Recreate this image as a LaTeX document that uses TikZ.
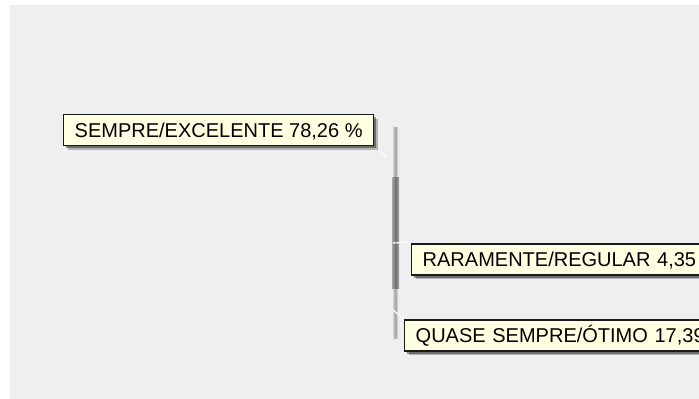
\documentclass[tikz,border=0pt]{standalone}
\usepackage{fontspec}
\setmainfont{Liberation Sans}
\usetikzlibrary{shadows}
\definecolor{bgc}{HTML}{EFEFEF}
\definecolor{tipfill}{HTML}{FFFFE1}
\definecolor{barlight}{HTML}{B4B4B4}
\definecolor{bardark}{HTML}{6E6E6E}
\tikzset{
  tipbox/.style={draw=black!90, line width=1.4pt, fill=tipfill, anchor=west,
    font=\fontsize{20}{24}\selectfont, inner xsep=11pt, inner ysep=0pt,
    text height=14.3pt, text depth=0pt, minimum height=31pt, align=left,
    drop shadow={shadow xshift=4pt, shadow yshift=-4pt, fill=black, opacity=0.25},
    drop shadow={shadow xshift=2.5pt, shadow yshift=-2.5pt, fill=black, opacity=0.4}},
  link/.style={draw=white, line width=1.2pt}
}
\begin{document}
\begin{tikzpicture}[x=1pt,y=-1pt]
\clip (0,0) rectangle (699,399);
\fill[white] (0,0) rectangle (699,399);
\fill[bgc] (10,5) rectangle (699,399);
% bar
\shade[left color=barlight!60, right color=barlight!60, middle color=barlight!90!black] (393,127) rectangle (397.5,338);
\shade[left color=bardark!60, right color=bardark!60, middle color=bardark] (392,177) rectangle (399,288);
% nodes
\node[tipbox] (n1) at (63,130) {SEMPRE/EXCELENTE 78,26 \%};
\node[tipbox, text width=300pt] (n2) at (411,259.5) {RARAMENTE/REGULAR 4,35};
\node[tipbox, text width=300pt] (n3) at (404,335.5) {QUASE SEMPRE/ÓTIMO 17,39};
% connectors
\coordinate (c1) at (386,157);
\coordinate (c2) at (393,243);
\coordinate (c3) at (393,310);
\draw[link] ([shift={(4,4)}]n1.south east) -- (c1);
\draw[link] (c2) -- ([shift={(-3,-1)}]n2.north west);
\draw[link] (c3) -- ([shift={(-1,-1)}]n3.north west);
\end{tikzpicture}
\end{document}
